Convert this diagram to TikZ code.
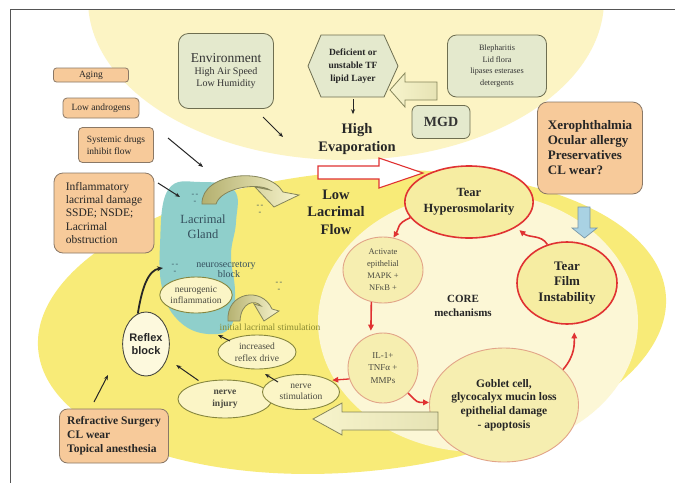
\documentclass[tikz,border=0pt]{standalone}
\usepackage{fontspec}
\setmainfont{Liberation Serif}
\newfontfamily\arialf{Liberation Sans}
\usetikzlibrary{arrows.meta,shapes.geometric}
\definecolor{toppale}{HTML}{FCF4C4}
\definecolor{brightyel}{HTML}{F8EB78}
\definecolor{innerpale}{HTML}{FCF7D6}
\definecolor{glandteal}{HTML}{8FCFCB}
\definecolor{orfill}{HTML}{F7CA9A}
\definecolor{ordraw}{HTML}{8A7866}
\definecolor{grfill}{HTML}{E4E9CD}
\definecolor{grdraw}{HTML}{6E6E50}
\definecolor{redc}{HTML}{E03232}
\definecolor{hyfill}{HTML}{F6EDA2}
\definecolor{thinred}{HTML}{E2A488}
\definecolor{actfill}{HTML}{F6EEB0}
\definecolor{nvfill}{HTML}{FBF5C6}
\definecolor{nvdraw}{HTML}{86863E}
\definecolor{olivetxt}{HTML}{8A8A32}
\definecolor{graytxt}{HTML}{4A4A40}
\definecolor{tealtxt}{HTML}{35505E}
\definecolor{arrdark}{HTML}{B3AF6E}
\definecolor{arrpale}{HTML}{F7F4CC}
\definecolor{arrdraw}{HTML}{85855A}
\definecolor{bluefill}{HTML}{A9D2E3}
\definecolor{bluedraw}{HTML}{7896A6}
\definecolor{framec}{HTML}{555555}
\tikzset{
 fsz/.style 2 args={font=\fontsize{#1}{#2}\selectfont},
 fszb/.style 2 args={font=\fontsize{#1}{#2}\selectfont\bfseries},
 obox/.style={draw=ordraw, fill=orfill, line width=0.8pt, rounded corners=4pt, inner sep=0pt, text=black!85},
 gbox/.style={draw=grdraw, fill=grfill, line width=0.8pt, rounded corners=9pt, inner sep=0pt, align=center, text=black!80},
 redell/.style={ellipse, draw=redc, line width=1.6pt, fill=hyfill, inner sep=0pt, align=center, text=black!85},
 thinell/.style={ellipse, draw=thinred, line width=0.9pt, fill=actfill, inner sep=0pt, align=center, text=graytxt},
 nvell/.style={ellipse, draw=nvdraw, line width=0.9pt, fill=nvfill, inner sep=0pt, align=center, text=graytxt},
 plaintext/.style={inner sep=0pt, align=center},
 blk/.style={-{Stealth[length=5pt,width=4pt]}, line width=1pt, black!85},
 redarr/.style={-{Triangle[length=6pt,width=5.5pt]}, line width=1.6pt, redc},
 hollow/.style={draw=arrdraw, line width=0.8pt, left color=arrpale, right color=arrpale!75!arrdark},
 curvarr/.style={draw=arrdraw, line width=0.8pt, left color=arrdark, right color=arrpale},
 dashmk/.style={inner sep=0pt, align=center, text=tealtxt, font=\fontsize{8}{7}\selectfont},
}
\begin{document}
\begin{tikzpicture}[x=1pt,y=-1pt]
\useasboundingbox (0,0) rectangle (675,483);
\fill[white] (0,0) rectangle (675,483);
% backgrounds
\begin{scope}
\clip (10,10) rectangle (675,483);
\fill[toppale] (346,0) ellipse [x radius=258, y radius=160];
\fill[brightyel, rotate around={5:(352,322)}] (352,322) ellipse [x radius=315, y radius=150];
\fill[innerpale] (478,322) ellipse [x radius=160, y radius=130];
\end{scope}
\draw[framec, line width=0.8pt] (675,9.5) -- (10,9.5) -- (10,483);
% lacrimal gland blob
\fill[glandteal] plot[smooth cycle, tension=0.7] coordinates {(168,190) (200,182) (234,190) (236,222) (231,255) (235,292) (231,326) (208,334) (180,322) (163,292) (160,245)};

% left orange boxes
\node[obox, rounded corners=3pt, minimum width=75pt, minimum height=14pt, fsz={9.5}{11}] (aging) at (91,75) {Aging};
\node[obox, minimum width=76pt, minimum height=20pt, fsz={9.5}{11}] (androgens) at (101,108) {Low androgens};
\node[obox, minimum width=75pt, minimum height=35pt, align=left, fsz={9.5}{12}] (systemic) at (116,145) {Systemic drugs\\inhibit flow};
\node[obox, rounded corners=9pt, minimum width=100pt, minimum height=80pt, align=left, fsz={11.5}{13.3}] (inflam) at (104,213) {Inflammatory\\lacrimal damage\\SSDE; NSDE;\\Lacrimal\\obstruction};

% top boxes
\node[gbox, rounded corners=10pt, minimum width=95pt, minimum height=75pt, fsz={10}{11.5}] (env) at (226,71) {{\fontsize{13.5}{15}\selectfont Environment}\\[1pt]High Air Speed\\Low Humidity};
\filldraw[draw=grdraw, fill=grfill, line width=0.8pt] (308,66) -- (321,35) -- (384,35) -- (398,66) -- (384,97) -- (321,97) -- cycle;
\node[plaintext, minimum width=90pt, minimum height=62pt, fszb={9.5}{13}, text=black!85] (hex) at (353,66) {Deficient or\\unstable TF\\lipid Layer};
\node[gbox, minimum width=99pt, minimum height=62pt, fsz={8.2}{11.7}] (bleph) at (497,66) {Blepharitis\\Lid flora\\lipases esterases\\detergents};
\node[gbox, rounded corners=6pt, minimum width=58pt, minimum height=33pt, fszb={14}{16}] (mgd) at (441,122) {MGD};
\node[obox, rounded corners=10pt, minimum width=105pt, minimum height=92pt, align=left, fszb={13}{15}] (xero) at (590,148) {Xerophthalmia\\Ocular allergy\\Preservatives\\CL wear?};

% big texts
\node[plaintext, fszb={14.5}{18}, text=black!85] (high) at (357,139) {High\\Evaporation};
\node[plaintext, fszb={14.5}{17.5}, text=black!85] (lowflow) at (336,212) {Low\\Lacrimal\\Flow};

% gland texts
\node[plaintext, fsz={12.5}{15}, text=tealtxt] (gland) at (203,227) {Lacrimal\\Gland};
\node[plaintext, fsz={10}{10}, text=tealtxt] (neurosec) at (226,270) {neurosecretory\\\hspace*{6pt}block};
\node[dashmk] (d1) at (195,199) {-\,-\\-};
\node[dashmk] (d2) at (260,210) {-\,-\\-};
\node[dashmk] (d3) at (175,269) {-\,-\\-};
\node[dashmk] (d4) at (279,287) {-\,-\\-};

% curved hollow arrows
\path[curvarr] (202,204) .. controls (201,172) and (268,166) .. (283,192) -- (299,195) -- (274,207) -- (255,187) -- (270,190) .. controls (257,182) and (221,188) .. (216,204) -- cycle;
\path[curvarr] (228,321) .. controls (226,292) and (262,286) .. (272,309) -- (279,311) -- (264,321) -- (254,304) -- (261,306) .. controls (255,299) and (241,302) .. (240,321) -- cycle;

% left-bottom ellipses
\node[nvell, minimum width=72pt, minimum height=36pt, fsz={9.5}{11}] (neuroinf) at (196,295) {neurogenic\\inflammation};
\node[plaintext, fsz={9.5}{11}, text=olivetxt] (initstim) at (270,327) {initial lacrimal stimulation};
\node[nvell, minimum width=78pt, minimum height=34pt, fsz={9.5}{12}] (reflexdrive) at (257,352) {increased\\reflex drive};
\node[nvell, fill=nvfill!60!white, draw=graytxt, minimum width=42pt, minimum height=64pt, font=\arialf\bfseries\fontsize{11}{12.5}\selectfont, text=black!85] (reflex) at (146,344) {Reflex\\block};
\node[nvell, minimum width=94pt, minimum height=38pt, fszb={9.5}{12}] (injury) at (225,399) {nerve\\injury};
\node[nvell, minimum width=77pt, minimum height=35pt, fsz={9.5}{11}] (nervestim) at (301,392) {nerve\\stimulation};
\node[obox, rounded corners=8pt, minimum width=109pt, minimum height=54pt, align=left, fszb={11.5}{14}] (refr) at (114,436) {Refractive Surgery\\CL wear\\Topical anesthesia};

% core cycle
\node[redell, minimum width=104pt, minimum height=72pt, fszb={12.5}{16}] (hyper) at (469,202) {Tear\\Hyperosmolarity};
\node[redell, minimum width=100pt, minimum height=82pt, fszb={13}{15.5}] (tfi) at (567,283) {Tear\\Film\\Instability};
\node[thinell, minimum width=80pt, minimum height=66pt, fsz={8.5}{12}] (activate) at (383,270) {Activate\\epithelial\\MAPK +\\NFκB +};
\node[plaintext, fszb={11}{13.5}, text=black!85] (core) at (463,306) {CORE\\mechanisms};
\node[thinell, minimum width=70pt, minimum height=70pt, fsz={9}{12.5}] (il1) at (383,368) {IL-1+\\TNFα +\\MMPs};
\node[thinell, minimum width=112pt, minimum height=114pt, fszb={11.5}{13.7}, text=black!85] (goblet) at (504,405) {Goblet cell,\\glycocalyx mucin loss\\epithelial damage\\- apoptosis};

% block arrows
\filldraw[draw=redc, fill=white, line width=1.1pt] (318,166) -- (379,166) -- (379,158) -- (423,173) -- (379,188) -- (379,179) -- (318,179) -- cycle;
\filldraw[draw=bluedraw, fill=bluefill, line width=0.7pt] (578,207) -- (590,207) -- (590,228) -- (597,228) -- (584.5,238) -- (572,228) -- (578,228) -- cycle;
\path[hollow] (437,82) -- (405,82) -- (405,73) -- (390,90) -- (405,107) -- (405,100) -- (437,100) -- cycle;
\path[hollow] (438,412) -- (342,412) -- (342,403) -- (313,419) -- (342,435) -- (342,430) -- (438,430) -- cycle;

% black connectors
\coordinate (envA) at (263,117); \coordinate (envB) at (283,137);
\coordinate (sysA) at (168,138); \coordinate (sysB) at (203,167);
\coordinate (infA) at (158,183); \coordinate (infB) at (180,197);
\coordinate (refA) at (94,402); \coordinate (refB) at (108,375);
\coordinate (stimA) at (278,382); \coordinate (stimB) at (265,374);
\coordinate (drvA) at (230,341); \coordinate (drvB) at (218,335);
\coordinate (glandin) at (163,268);
\draw[blk] (envA) -- (envB);
\draw[blk] (sysA) -- (sysB);
\draw[blk] (infA) -- (infB);
\draw[blk] (refA) -- (refB);
\draw[blk, shorten <=3pt, shorten >=11pt] (injury) -- (reflex);
\draw[blk] (stimA) -- (stimB);
\draw[blk] (drvA) -- (drvB);
\draw[blk] ([yshift=-2pt]hex.south) -- ++(0,15);
\draw[line width=1.8pt, black!85, -{Stealth[length=6pt,width=5pt]}] (reflex.105) .. controls +(4,-25) and +(-15,2) .. (glandin);

% red cycle connectors
\draw[redarr] (hyper.195) .. controls +(-14,6) and +(6,-10) .. (activate.72);
\draw[redarr] (activate.250) -- ([yshift=4pt]il1.110);
\draw[redarr] (il1.315) .. controls +(10,10) and +(-12,0) .. (goblet.178);
\draw[redarr] (goblet.31) .. controls +(12,-14) and +(0,12) .. ([yshift=-8pt]tfi.280);
\draw[redarr] (tfi.117) .. controls +(-6,-10) and +(10,8) .. ([xshift=3pt,yshift=-3pt]hyper.-28);
\draw[redarr, line width=1.3pt] (il1.198) -- ([xshift=2pt]nervestim.22);
\end{tikzpicture}
\end{document}
